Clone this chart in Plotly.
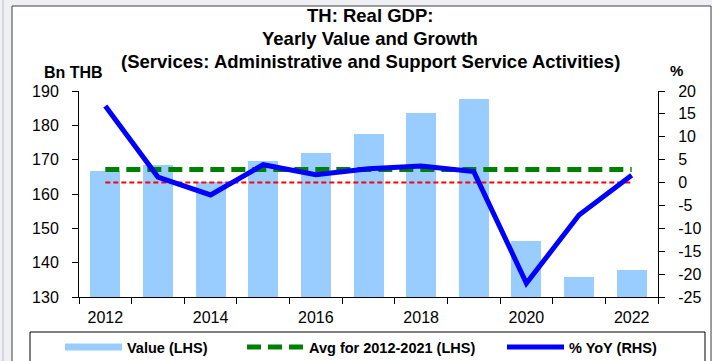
import plotly.graph_objects as go

# ---- data ----
years = [2012, 2013, 2014, 2015, 2016, 2017, 2018, 2019, 2020, 2021, 2022]
value_bn_thb = [166.6, 168.4, 163.4, 169.5, 172.0, 177.5, 183.7, 187.8, 146.4, 135.9, 137.9]
yoy_pct = [16.7, 1.2, -2.7, 3.9, 1.7, 3.0, 3.6, 2.4, -22.0, -7.1, 1.6]
avg_2012_2021 = [167.1, 167.1, 167.1, 167.1, 167.1, 167.1, 167.1, 167.1, 167.1, 167.1, 167.1]
zero_rhs = [0, 0, 0, 0, 0, 0, 0, 0, 0, 0, 0]
x_tick_vals = [2012, 2014, 2016, 2018, 2020, 2022]
x_tick_text = ["2012", "2014", "2016", "2018", "2020", "2022"]
rhs_tick_vals = [20, 15, 10, 5, 0, -5, -10, -15, -20, -25]
rhs_tick_text = ["20", "15", "10", "5", "0", "-5", "-10", "-15", "-20", "-25"]
title_lines = ["TH: Real GDP:", "Yearly Value and Growth",
               "(Services: Administrative and Support Service Activities)"]

FONT = "Liberation Sans, Arial, sans-serif"
W, H = 712, 361
ML, MR, MT, MB = 79, 54, 91, 64
PW, PH = W - ML - MR, H - MT - MB


def px(x):
    return (x - ML) / PW


def py(y):
    return (H - MB - y) / PH


fig = go.Figure()

fig.add_trace(go.Bar(x=years, y=value_bn_thb, width=0.57, marker=dict(color="#99CCFF", line=dict(width=0)),
                     showlegend=False, yaxis="y", hoverinfo="x+y"))
# legend swatch for the bars (wide flat rectangle like the reference)
fig.add_trace(go.Scatter(x=[None], y=[None], mode="lines", name="Value (LHS)",
                         line=dict(color="#99CCFF", width=7), legend="legend"))
fig.add_trace(go.Scatter(x=years, y=avg_2012_2021, mode="lines", name="Avg for 2012-2021 (LHS)",
                         line=dict(color="#008000", width=5, dash="14px,7px"), yaxis="y", legend="legend2"))
fig.add_trace(go.Scatter(x=years, y=zero_rhs, mode="lines", showlegend=False,
                         line=dict(color="#FF0000", width=2, dash="5px,3px"), yaxis="y2"))
fig.add_trace(go.Scatter(x=years, y=yoy_pct, mode="lines", name="% YoY (RHS)",
                         line=dict(color="#0000FF", width=5), yaxis="y2", legend="legend3"))

annotations = []
for text, yy in zip(title_lines, [16, 39, 61]):
    annotations.append(dict(text="<b>%s</b>" % text, x=px(370), y=py(yy), xref="paper", yref="paper",
                            xanchor="center", yanchor="middle", showarrow=False,
                            font=dict(family=FONT, size=18.5, color="black")))
annotations.append(dict(text="<b>Bn THB</b>", x=px(73), y=py(72), xref="paper", yref="paper",
                        xanchor="center", yanchor="middle", showarrow=False,
                        font=dict(family=FONT, size=16, color="black")))
annotations.append(dict(text="<b>%</b>", x=px(676), y=py(70), xref="paper", yref="paper",
                        xanchor="center", yanchor="middle", showarrow=False,
                        font=dict(family=FONT, size=15, color="black")))

shapes = [
    # outer chart frame
    dict(type="rect", xref="paper", yref="paper", x0=px(12), x1=px(711), y0=py(370), y1=py(6),
         line=dict(color="#404040", width=1), fillcolor="white", layer="below"),
    dict(type="line", xref="paper", yref="paper", x0=px(3), x1=px(3), y0=py(370), y1=py(0),
         line=dict(color="#b8bcc4", width=1), layer="below"),
    # legend box
    dict(type="rect", xref="paper", yref="paper", x0=px(30), x1=px(705), y0=py(375), y1=py(332),
         line=dict(color="black", width=1), fillcolor="rgba(0,0,0,0)", layer="above"),
]


def leg(x):
    return dict(orientation="h", yanchor="middle", y=py(347), xanchor="left", x=px(x),
                bgcolor="rgba(0,0,0,0)", borderwidth=0, itemwidth=57,
                font=dict(family=FONT, size=14.5, color="black", weight="bold"))


axis_font = dict(family=FONT, size=16, color="black")

fig.update_layout(
    width=W, height=H,
    margin=dict(l=ML, r=MR, t=MT, b=MB, pad=0, autoexpand=False),
    paper_bgcolor="#eef0f4",
    plot_bgcolor="white",
    bargap=0,
    annotations=annotations,
    shapes=shapes,
    legend=leg(60),
    legend2=leg(242),
    legend3=leg(502),
    xaxis=dict(range=[2011.5, 2022.5], tickvals=x_tick_vals, ticktext=x_tick_text, ticks="",
               showline=True, linecolor="black", linewidth=1, showgrid=False, zeroline=False,
               tickfont=axis_font, ticklabelstandoff=6,
               minor=dict(ticks="outside", tick0=2011.5, dtick=1, ticklen=6, tickcolor="black",
                          tickwidth=1, showgrid=False)),
    yaxis=dict(range=[130, 190], dtick=10, ticks="outside", ticklen=6, tickcolor="black",
               showline=True, linecolor="black", linewidth=1, showgrid=False, zeroline=False,
               tickfont=axis_font, ticklabelstandoff=10),
    yaxis2=dict(range=[-25, 20], tickvals=rhs_tick_vals, ticktext=rhs_tick_text, overlaying="y",
                side="right", ticks="outside", ticklen=6,
                tickcolor="black", showline=True, linecolor="black", linewidth=1, showgrid=False,
                zeroline=False, tickfont=axis_font, ticklabelstandoff=10),
    showlegend=True,
)

fig.write_html("out.html", config={"displayModeBar": False},
               post_script="document.body.style.margin='0px';document.body.style.overflow='hidden';")
